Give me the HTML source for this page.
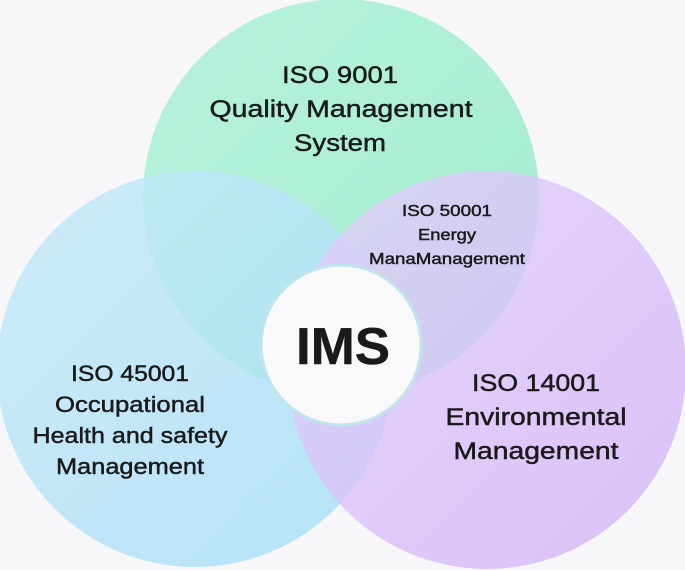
<!DOCTYPE html>
<html><head><style>
html,body{margin:0;padding:0;background:#f7f7f9;}
svg{display:block}
text{font-family:"Liberation Sans",sans-serif;fill:#1a1a1a;text-anchor:middle;stroke:#1a1a1a;stroke-width:0.45}
</style></head><body>
<svg width="685" height="570" viewBox="0 0 685 570" xmlns="http://www.w3.org/2000/svg">
<defs>
<linearGradient id="g" x1="0" y1="0" x2="1" y2="1"><stop offset="0" stop-color="#b8f2dc"/><stop offset="1" stop-color="#a2eccf"/></linearGradient>
<linearGradient id="b" x1="0" y1="0" x2="1" y2="1"><stop offset="0" stop-color="#c4e8fa"/><stop offset="1" stop-color="#a6def6"/></linearGradient>
<linearGradient id="p" x1="0" y1="0" x2="1" y2="1"><stop offset="0" stop-color="#e2d0fa"/><stop offset="1" stop-color="#d2b2f8"/></linearGradient>
</defs>
<rect width="685" height="570" fill="#f7f7f9"/>
<circle cx="341" cy="197" r="198" fill="url(#g)"/>
<circle cx="195" cy="369" r="198" fill="url(#b)" opacity="0.82"/>
<circle cx="487" cy="370" r="199" fill="url(#p)" opacity="0.8"/>
<circle cx="341" cy="345" r="80" fill="#f9f9fc" stroke="#bfe6ea" stroke-width="3"/>
<text x="343" y="364" font-size="52" font-weight="bold" fill="#111" textLength="94" lengthAdjust="spacingAndGlyphs">IMS</text>
<g font-size="24">
<text x="340" y="83" textLength="116" lengthAdjust="spacingAndGlyphs">ISO 9001</text>
<text x="341" y="117" textLength="263" lengthAdjust="spacingAndGlyphs">Quality Management</text>
<text x="340" y="151" textLength="92" lengthAdjust="spacingAndGlyphs">System</text>
</g>
<g font-size="16" style="stroke-width:0.3">
<text x="447" y="216" textLength="90" lengthAdjust="spacingAndGlyphs">ISO 50001</text>
<text x="447" y="240" textLength="58" lengthAdjust="spacingAndGlyphs">Energy</text>
<text x="447" y="264" textLength="156" lengthAdjust="spacingAndGlyphs">ManaManagement</text>
</g>
<g font-size="22">
<text x="130" y="381" textLength="118" lengthAdjust="spacingAndGlyphs">ISO 45001</text>
<text x="130" y="412" textLength="150" lengthAdjust="spacingAndGlyphs">Occupational</text>
<text x="130" y="443" textLength="195" lengthAdjust="spacingAndGlyphs">Health and safety</text>
<text x="130" y="474" textLength="148" lengthAdjust="spacingAndGlyphs">Management</text>
</g>
<g font-size="24">
<text x="536" y="391" textLength="128" lengthAdjust="spacingAndGlyphs">ISO 14001</text>
<text x="536" y="425" textLength="181" lengthAdjust="spacingAndGlyphs">Environmental</text>
<text x="536" y="459" textLength="165" lengthAdjust="spacingAndGlyphs">Management</text>
</g>
</svg>
</body></html>
